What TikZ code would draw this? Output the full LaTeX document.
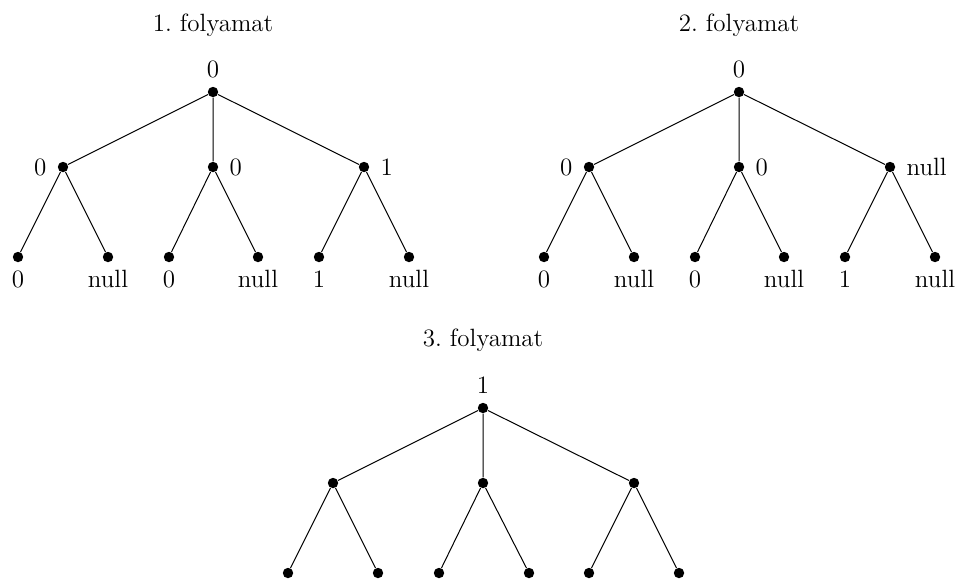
\documentclass[tikz,border=0pt]{standalone}
\frenchspacing
\begin{document}
\begin{tikzpicture}[x=0.5pt,y=-0.5pt,
  font=\fontsize{12.5}{15}\selectfont,
  dot/.style={circle,fill=black,draw=none,inner sep=0pt,minimum size=5.2pt},
  edge/.style={line width=0.5pt},
  labup/.style={inner sep=0pt,label distance=4.2pt},
  labside/.style={inner sep=0pt,label distance=5.3pt},
  labdown/.style={inner sep=0pt,label distance=3.8pt},
  title/.style={inner sep=0pt}]
\useasboundingbox (0,0) rectangle (956,580);

% Tree 1
\node[title] (t1) at (213,25) {1.\ folyamat};
\node[dot,label={[labup]above:0}] (r1) at (213,92) {};
\node[dot,label={[labside]left:0}] (a1) at (63,167) {};
\node[dot,label={[labside]right:0}] (b1) at (213,167) {};
\node[dot,label={[labside]right:1}] (c1) at (364,167) {};
\node[dot,label={[labdown]below:0}] (a1l) at (18,257) {};
\node[dot,label={[labdown]below:null}] (a1r) at (108,257) {};
\node[dot,label={[labdown]below:0}] (b1l) at (169,257) {};
\node[dot,label={[labdown]below:null}] (b1r) at (258,257) {};
\node[dot,label={[labdown]below:1}] (c1l) at (319,257) {};
\node[dot,label={[labdown]below:null}] (c1r) at (409,257) {};
\draw[edge] (r1) -- (a1) (r1) -- (b1) (r1) -- (c1)
  (a1) -- (a1l) (a1) -- (a1r) (b1) -- (b1l) (b1) -- (b1r) (c1) -- (c1l) (c1) -- (c1r);

% Tree 2
\node[title] (t2) at (739,25) {2.\ folyamat};
\node[dot,label={[labup]above:0}] (r2) at (739,92) {};
\node[dot,label={[labside]left:0}] (a2) at (589,167) {};
\node[dot,label={[labside]right:0}] (b2) at (739,167) {};
\node[dot,label={[labside]right:null}] (c2) at (890,167) {};
\node[dot,label={[labdown]below:0}] (a2l) at (544,257) {};
\node[dot,label={[labdown]below:null}] (a2r) at (634,257) {};
\node[dot,label={[labdown]below:0}] (b2l) at (695,257) {};
\node[dot,label={[labdown]below:null}] (b2r) at (784,257) {};
\node[dot,label={[labdown]below:1}] (c2l) at (845,257) {};
\node[dot,label={[labdown]below:null}] (c2r) at (935,257) {};
\draw[edge] (r2) -- (a2) (r2) -- (b2) (r2) -- (c2)
  (a2) -- (a2l) (a2) -- (a2r) (b2) -- (b2l) (b2) -- (b2r) (c2) -- (c2l) (c2) -- (c2r);

% Tree 3
\node[title] (t3) at (483,340) {3.\ folyamat};
\node[dot,label={[labup]above:1}] (r3) at (483,408) {};
\node[dot] (a3) at (333,483) {};
\node[dot] (b3) at (483,483) {};
\node[dot] (c3) at (634,483) {};
\node[dot] (a3l) at (288,573) {};
\node[dot] (a3r) at (378,573) {};
\node[dot] (b3l) at (439,573) {};
\node[dot] (b3r) at (529,573) {};
\node[dot] (c3l) at (589,573) {};
\node[dot] (c3r) at (679,573) {};
\draw[edge] (r3) -- (a3) (r3) -- (b3) (r3) -- (c3)
  (a3) -- (a3l) (a3) -- (a3r) (b3) -- (b3l) (b3) -- (b3r) (c3) -- (c3l) (c3) -- (c3r);
\end{tikzpicture}
\end{document}
